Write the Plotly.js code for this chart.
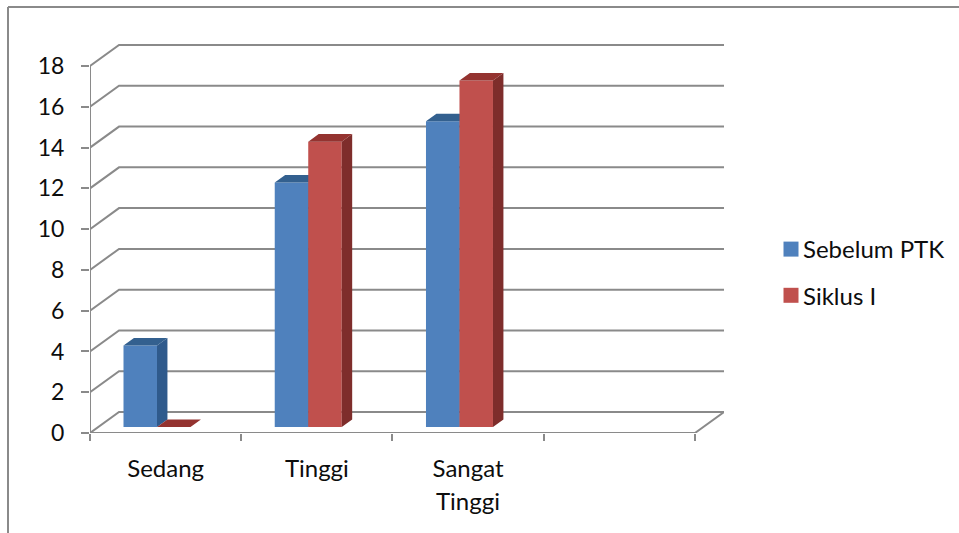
<!DOCTYPE html>
<html><head><meta charset="utf-8">
<script src="https://cdn.plot.ly/plotly-3.0.1.min.js"></script>
<style>html,body{margin:0;padding:0;background:#fff}</style></head>
<body><div id="chart" style="width:959px;height:533px"></div>
<script>
const categories = ["Sedang", "Tinggi", "Sangat"];
const categoryLine2 = "Tinggi";
const seriesNames = ["Sebelum PTK", "Siklus I"];
const sebelumPTK = [4, 12, 15];
const siklusI = [0, 14, 17];
const yTicks = [0,2,4,6,8,10,12,14,16,18];
const xBoundaries = [0,1,2,3,4];

const FONT = "Lato, Carlito, Calibri, sans-serif";
const GRID = "#8a8a8a";
const INK = "#0d0d0d";
const xr = [0, 4.192], yr = [0, 19.08];
// 3-D projection constants, in axis units
const wallDx = 0.192, wallDy = 1.03, barDx = 0.069, barDy = 0.37, barBase = 0.29, barW = 0.2215;

function wallTrace() {
  const x = [], y = [];
  yTicks.forEach(v => { x.push(0, wallDx, 4 + wallDx, null); y.push(v, v + wallDy, v + wallDy, null); });
  x.push(0, 0, null, 0, 4, 4 + wallDx); y.push(0, 18, null, 0, 0, wallDy);
  return {x, y, mode: "lines", line: {color: GRID, width: 2}, showlegend: false, hoverinfo: "skip", xaxis: "x", yaxis: "y", cliponaxis: false};
}
function faces(values, off, kind) {
  const x = [], y = [];
  values.forEach((v, i) => {
    const l = i + off, r = l + barW, t = barBase + v;
    if (kind === "side") {
      if (v === 0) return;
      x.push(r, r + barDx, r + barDx, r, r, null);
      y.push(barBase, barBase + barDy, t + barDy, t, barBase, null);
    } else {
      x.push(l, l + barDx, r + barDx, r, l, null);
      y.push(t, t + barDy, t + barDy, t, t, null);
    }
  });
  return {x, y};
}
function barSet(values, off, front, side, top, ax) {
  const s = faces(values, off, "side"), t = faces(values, off, "top");
  return [
    {type: "bar", x: [0,1,2], y: values, base: values.map(() => barBase), offset: off, width: barW,
     marker: {color: front, line: {width: 0}}, showlegend: false, hoverinfo: "skip", xaxis: "x"+ax, yaxis: "y"+ax},
    {x: s.x, y: s.y, mode: "lines", fill: "toself", fillcolor: side, line: {width: 0, color: side}, showlegend: false, hoverinfo: "skip", xaxis: "x"+ax, yaxis: "y"+ax},
    {x: t.x, y: t.y, mode: "lines", fill: "toself", fillcolor: top, line: {width: 0, color: top}, showlegend: false, hoverinfo: "skip", xaxis: "x"+ax, yaxis: "y"+ax}
  ];
}
function legendTrace(name, color) {
  return {x: [null], y: [null], name, mode: "markers", marker: {symbol: "square", size: 15, color}, legendgroup: name, xaxis: "x", yaxis: "y", hoverinfo: "skip"};
}
const data = [wallTrace()]
  .concat(barSet(sebelumPTK, barW, "#4f81bd", "#2f5a8c", "#33608f", "2"))
  .concat(barSet(siklusI, 2 * barW, "#c0504d", "#7e2d2b", "#943330", "3"))
  .concat([legendTrace(seriesNames[0], "#4f81bd"), legendTrace(seriesNames[1], "#c0504d")]);

const hidden = {visible: false, fixedrange: true};
const layout = {
  width: 959, height: 533, autosize: false,
  margin: {l: 90, r: 235, t: 44, b: 100, pad: 0, autoexpand: false},
  paper_bgcolor: "#fff", plot_bgcolor: "#fff",
  font: {family: FONT, size: 24, color: INK},
  hovermode: false, barmode: "overlay",
  xaxis: {range: xr, tickmode: "array", tickvals: xBoundaries, ticktext: xBoundaries.map(() => ""), ticks: "outside", ticklen: 7, tickwidth: 2, tickcolor: GRID, showgrid: false, zeroline: false, showline: false},
  yaxis: {range: yr, tickmode: "array", tickvals: yTicks, ticktext: yTicks.map(String), tickfont: {size: 23}, ticks: "outside", ticklen: 8, tickwidth: 2, tickcolor: GRID, showgrid: false, zeroline: false, showline: false, ticklabelstandoff: 12},
  xaxis2: {range: xr, overlaying: "x", anchor: "y2", tickmode: "array", tickvals: [0.5,1.5,2.5], ticktext: categories, ticks: "", showgrid: false, zeroline: false, showline: false, ticklabelstandoff: 19},
  yaxis2: Object.assign({range: yr, overlaying: "y", anchor: "x2"}, hidden),
  xaxis3: Object.assign({range: xr, overlaying: "x", anchor: "y3"}, hidden),
  yaxis3: Object.assign({range: yr, overlaying: "y", anchor: "x3"}, hidden),
  legend: {x: (763 - 90) / 634, xanchor: "left", y: (433 - 227) / 389, yanchor: "top", traceorder: "grouped", tracegroupgap: 12, bgcolor: "rgba(0,0,0,0)", itemclick: false, itemdoubleclick: false},
  annotations: [{text: categoryLine2, xref: "x", yref: "y", x: 2.5, y: 0, yshift: -67, showarrow: false, yanchor: "middle", xanchor: "center", font: {family: FONT, size: 24, color: INK}}],
  shapes: [
    {type: "line", xref: "paper", yref: "paper", x0: (8-90)/634, x1: (8-90)/634, y0: (433-7)/389, y1: (433-533)/389, line: {color: GRID, width: 2}},
    {type: "line", xref: "paper", yref: "paper", x0: (8-90)/634, x1: (959-90)/634, y0: (433-7)/389, y1: (433-7)/389, line: {color: GRID, width: 2}}
  ]
};
Plotly.newPlot("chart", data, layout, {displayModeBar: false}).then(gd => {
  // the legend has a fixed swatch column; sit each swatch closer to its label
  gd.querySelectorAll(".legend .legendsymbols").forEach(el => el.setAttribute("transform", "translate(8,0)"));
});
</script></body></html>
